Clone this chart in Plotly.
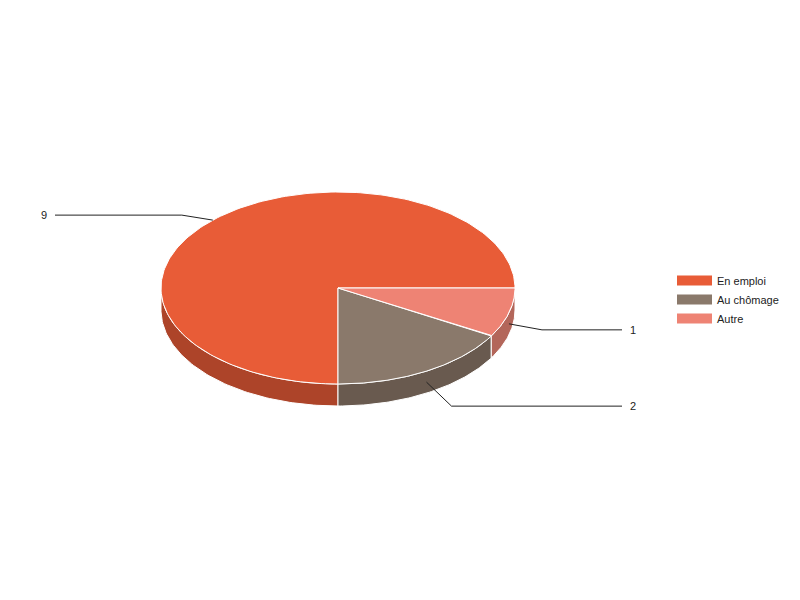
"""
Camembert 3D (style Google Charts) — situation professionnelle.
Plotly n'a pas de camembert 3D : on dessine les faces avec des polygones
calculés à partir des valeurs.
"""
import numpy as np
import plotly.graph_objects as go

# données
labels = ["En emploi", "Au chômage", "Autre"]
values = [9, 2, 1]

# style
top_colors = ["#e85c37", "#8a796b", "#ee8374"]
side_colors = ["#ad4429", "#695a4f", "#b3665a"]
FONT = dict(family="Liberation Sans, Arial, sans-serif", size=11, color="#222222")

# géométrie (pixels de la page ; la page a une marge de 8px)
PAGE_OFF = 8
CX, CY, RX, RY, DEPTH = 338, 288, 177, 96, 22
LEFT_END, RIGHT_END = 55, 622
ELBOW_DX = [31, 25, 33]
ELBOW_DY = [-5, 24, 6]


def pt(theta, dz=0):
    t = np.radians(theta)
    return CX + RX * np.cos(t), CY - RY * np.sin(t) + dz


fracs = np.array(values, dtype=float) / sum(values)
bounds = np.concatenate([[0], np.cumsum(fracs) * 360])

fig = go.Figure()

# faces latérales (moitié avant seulement)
for i, lab in enumerate(labels):
    a1, a2 = max(bounds[i], 180), min(bounds[i + 1], 360)
    if a2 <= a1:
        continue
    th = np.linspace(a1, a2, 80)
    xt, yt = pt(th)
    xb, yb = pt(th[::-1], DEPTH)
    fig.add_trace(go.Scatter(x=np.concatenate([xt, xb, xt[:1]]), y=np.concatenate([yt, yb, yt[:1]]),
        mode="lines", fill="toself", fillcolor=side_colors[i], line=dict(color="white", width=1),
        hoverinfo="skip", showlegend=False, legendgroup=lab))

# faces supérieures
for i, lab in enumerate(labels):
    th = np.linspace(bounds[i], bounds[i + 1], 200)
    xs, ys = pt(th)
    fig.add_trace(go.Scatter(x=np.concatenate([[CX], xs, [CX]]), y=np.concatenate([[CY], ys, [CY]]),
        mode="lines", fill="toself", fillcolor=top_colors[i], line=dict(color="white", width=1),
        name=lab, legendgroup=lab, showlegend=False,
        hovertemplate=f"{lab}: {values[i]}<extra></extra>"))

# entrées de légende (rectangles larges comme dans l'original)
for i, lab in enumerate(labels):
    fig.add_trace(go.Scatter(x=[None], y=[None], mode="lines", name=lab, legendgroup=lab,
        line=dict(color=top_colors[i], width=11)))

# étiquettes avec lignes de rappel
for i, v in enumerate(values):
    mid = (bounds[i] + bounds[i + 1]) / 2
    s = np.sin(np.radians(mid))
    ax_, ay_ = pt(mid, DEPTH / 2 if s < 0 else 0)
    right = np.cos(np.radians(mid)) >= 0
    ex = ax_ + (ELBOW_DX[i] if right else -ELBOW_DX[i])
    ey = ay_ + ELBOW_DY[i]
    end = RIGHT_END if right else LEFT_END
    fig.add_trace(go.Scatter(x=[ax_, ex, end], y=[ay_, ey, ey], mode="lines",
        line=dict(color="#222222", width=1), hoverinfo="skip", showlegend=False))
    fig.add_annotation(x=end + (6 if right else -6), y=ey, text=str(v), showarrow=False,
        xanchor="left" if right else "right", yanchor="middle", font=FONT)

fig.update_xaxes(range=[PAGE_OFF, 800 + PAGE_OFF], visible=False, fixedrange=True)
fig.update_yaxes(range=[600 + PAGE_OFF, PAGE_OFF], visible=False, fixedrange=True)
fig.update_layout(width=800, height=600, margin=dict(l=0, r=0, t=0, b=0),
    paper_bgcolor="white", plot_bgcolor="white", font=FONT,
    legend=dict(x=0.83, y=0.57, xanchor="left", yanchor="top", font=FONT,
                bgcolor="rgba(0,0,0,0)", tracegroupgap=0, itemwidth=35))
fig.write_html("out.html")
